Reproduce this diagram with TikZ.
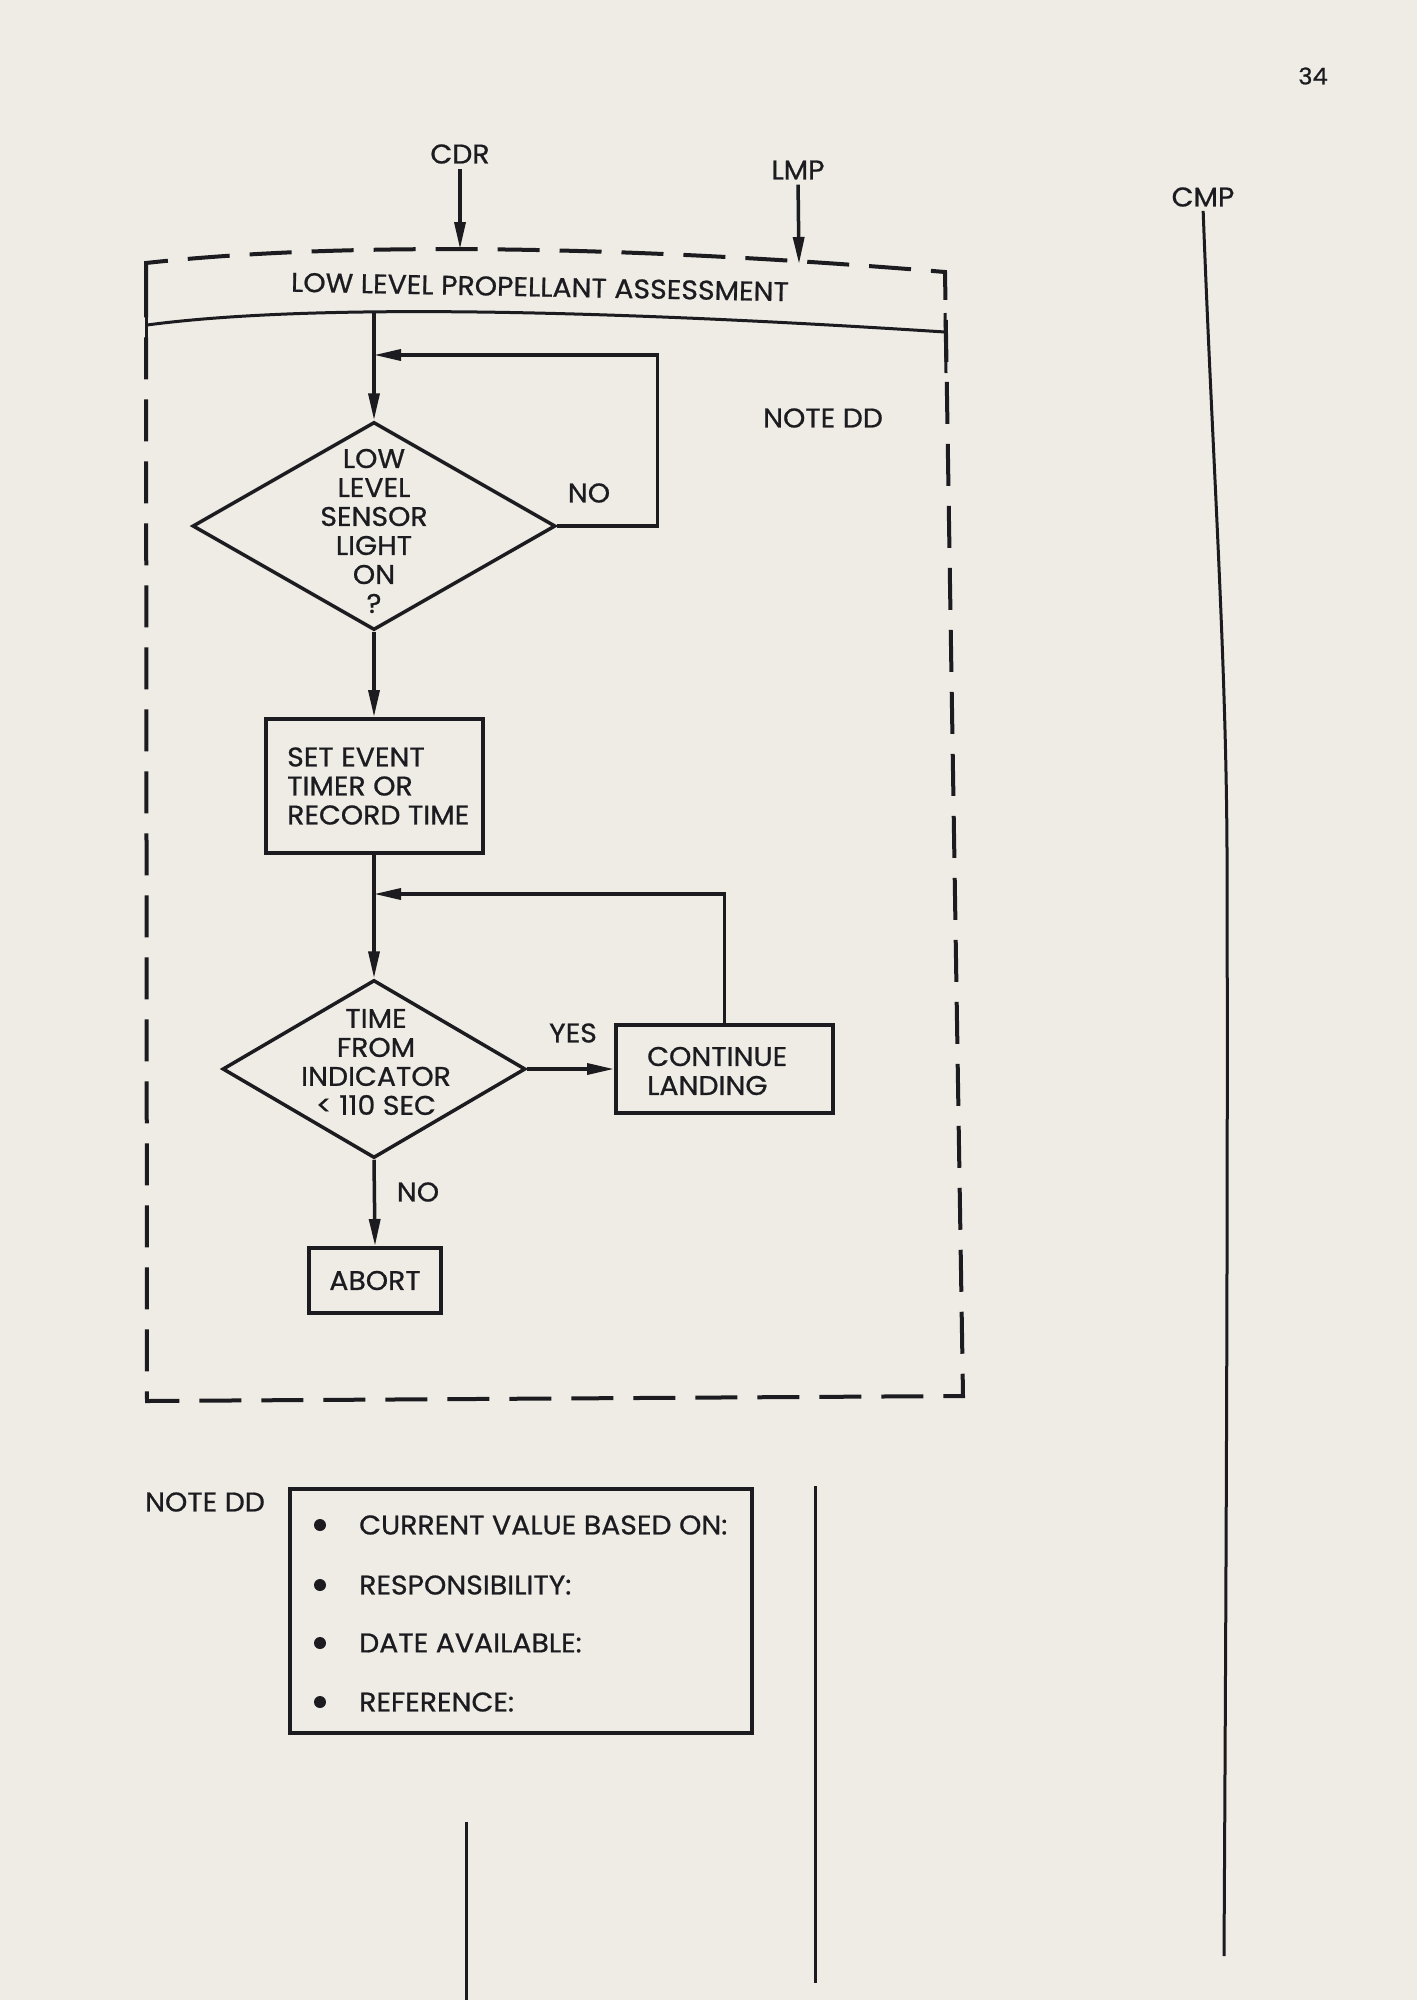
\documentclass[tikz,border=0pt]{standalone}
\usepackage{fontspec}
\setmainfont{Poppins}[FakeStretch=1.05,FakeBold=0.8]
\usetikzlibrary{arrows.meta,shapes.geometric}
\definecolor{paper}{RGB}{239,236,229}
\definecolor{ink}{RGB}{28,28,32}
\begin{document}
\begin{tikzpicture}[x=1pt,y=-1pt,
  every node/.style={text=ink,font=\fontsize{27}{29}\selectfont,inner sep=0pt},
  flow/.style={draw=ink,line width=3.5pt},
  arr/.style={flow,-{Triangle[length=27pt,width=11pt]}},
  boxst/.style={draw=ink,line width=4pt,rectangle},
  dia/.style={draw=ink,line width=3.5pt,diamond,inner sep=0pt},
  border/.style={draw=ink,line width=4pt,dash pattern=on 42pt off 20pt},
  thinline/.style={draw=ink,line width=3pt},
  dot/.style={circle,fill=ink,minimum size=12pt,inner sep=0pt}
]
\fill[paper] (0,0) rectangle (1417,2000);
\useasboundingbox (0,0) rectangle (1417,2000);

% page number and role labels
\node[font=\fontsize{23}{26}\selectfont] (pg) at (1313,76) {34};
\node (cdr) at (460,154) {CDR};
\node (lmp) at (798,170) {LMP};
\node (cmp) at (1203,197) {CMP};

% dashed frame
\path[border] (146,283) -- (146,263) .. controls (300,246) and (560,240) .. (945,272)
  -- (963,1396) -- (147,1401) -- cycle;
\draw[thinline] (146,305) -- (146,370);
\draw[thinline] (945,313) -- (946,373);
\draw[thinline] (147,325) .. controls (260,310) and (480,302) .. (945,332);
\coordinate (h1) at (374,312);
\coordinate (cdrend) at (460,249);
\coordinate (lmpend) at (799,264);
\draw[arr,shorten <=5pt] (cdr.south) -- (cdrend);
\draw[arr,shorten <=5pt] (lmp.south) -- (lmpend);

\node[rotate=-1.1] (title) at (540,287) {LOW LEVEL PROPELLANT ASSESSMENT};
\node (note1) at (823,418) {NOTE DD};

% flow
\node[dia,minimum width=363pt,minimum height=208pt] (d1) at (374,526) {};
\node[align=center] (d1t) at (374,531) {LOW\\LEVEL\\SENSOR\\LIGHT\\ON\\?};
\node (no1) at (589,493) {NO};
\node[boxst,minimum width=217pt,minimum height=134pt] (b1) at (374,786) {};
\node[anchor=west,align=left] (b1t) at (287,786) {SET EVENT\\TIMER OR\\RECORD TIME};
\node[dia,minimum width=303pt,minimum height=178pt] (d2) at (374,1069) {};
\node[align=center] (d2t) at (376,1062) {TIME\\FROM\\INDICATOR\\< 110 SEC};
\node (yes) at (573,1033) {YES};
\node[boxst,minimum width=217pt,minimum height=88pt] (b2) at (724.5,1069) {};
\node[anchor=west,align=left] (b2t) at (647,1071) {CONTINUE\\LANDING};
\node (no2) at (418,1192) {NO};
\node[boxst,minimum width=132pt,minimum height=65pt] (ab) at (375,1280.5) {ABORT};

\coordinate (j1) at (374,355);
\coordinate (j2) at (374,894);
\draw[arr] (h1) -- (d1.north);
\draw[arr] (d1.east) -- ++(100,0) |- (j1);
\draw[arr] (d1.south) -- (b1.north);
\draw[arr] (b1.south) -- (d2.north);
\draw[arr] (b2.north) |- (j2);
\draw[arr] (d2.east) -- (b2.west);
\draw[arr] (d2.south) -- (ab.north);

% note DD
\node (note2) at (205,1502) {NOTE DD};
\node[boxst,minimum width=462pt,minimum height=244pt] (nb) at (521,1611) {};
\node[dot] (u1) at (320,1525) {};
\node[dot] (u2) at (320,1585) {};
\node[dot] (u3) at (320,1643) {};
\node[dot] (u4) at (320,1702) {};
\node[anchor=west] (t1) at (359,1525) {CURRENT VALUE BASED ON:};
\node[anchor=west] (t2) at (359,1585) {RESPONSIBILITY:};
\node[anchor=west] (t3) at (359,1643) {DATE AVAILABLE:};
\node[anchor=west] (t4) at (359,1702) {REFERENCE:};

% lane lines
\coordinate (v1a) at (815,1486);
\coordinate (v1b) at (815,1983);
\coordinate (v2a) at (466,1822);
\coordinate (v2b) at (466,2000);
\coordinate (cmpend) at (1224,1956);
\draw[thinline] (v1a) -- (v1b);
\draw[thinline] (v2a) -- (v2b);
\draw[thinline,shorten <=4pt] (cmp.south) .. controls (1212,450) and (1226,650) .. (1227,850)
  .. controls (1228,1200) and (1226,1600) .. (cmpend);
\end{tikzpicture}
\end{document}
